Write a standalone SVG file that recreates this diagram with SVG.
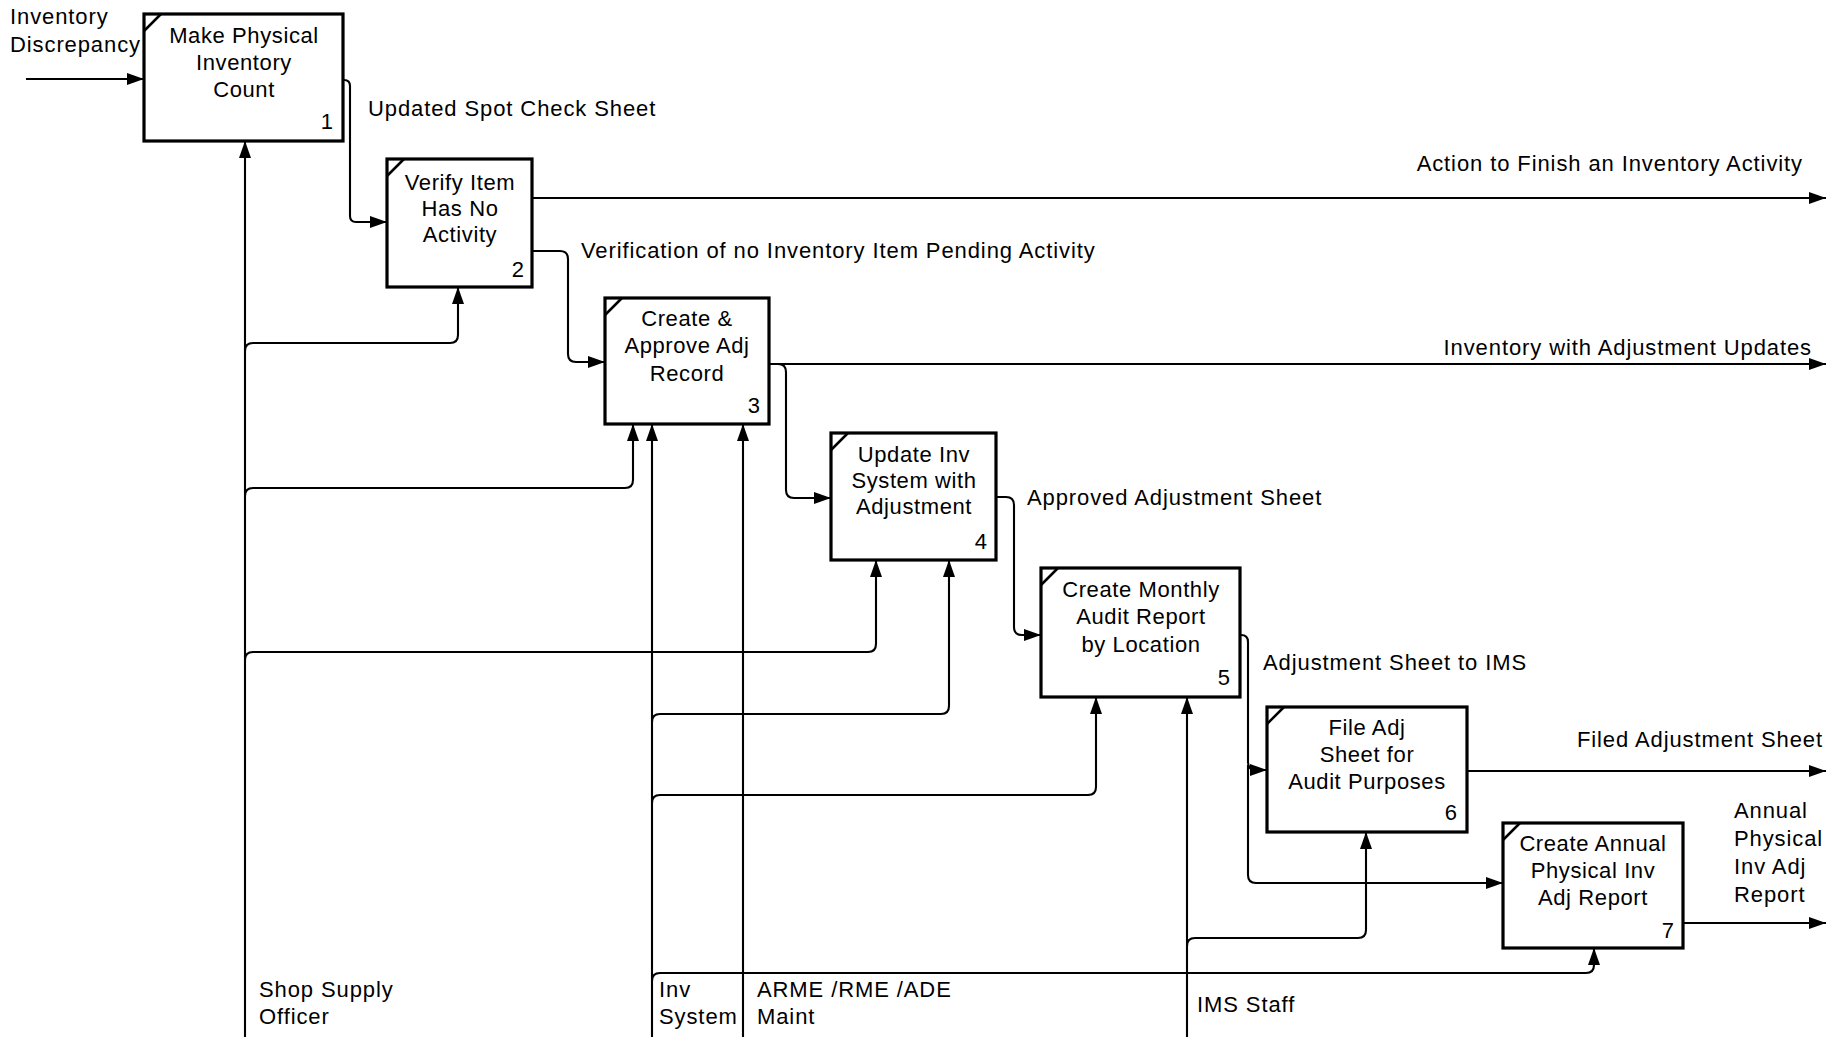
<svg xmlns="http://www.w3.org/2000/svg" width="1839" height="1039" viewBox="0 0 1839 1039">
<style>
text{font-family:"Liberation Sans",Arial,sans-serif;font-size:22px;fill:#000;letter-spacing:0.9px}
.box{fill:#fff;stroke:#000;stroke-width:3.2}
.nt{stroke:#000;stroke-width:2.5}
.node text.t{text-anchor:middle;letter-spacing:0.6px}
.num{text-anchor:end}
.ln{fill:none;stroke:#000;stroke-width:2.1}
.lbl{text-anchor:start}
.end{text-anchor:end}
</style>
<defs>
<marker id="ah" markerUnits="userSpaceOnUse" markerWidth="17" markerHeight="12" refX="17" refY="6" orient="auto">
<path d="M0,0 L17,6 L0,12 z" fill="#000"/>
</marker>
</defs>
<rect width="1839" height="1039" fill="#fff"/>

<g id="connectors">
<path class="ln" marker-end="url(#ah)" d="M26,79 H144"/>
<path class="ln" marker-end="url(#ah)" d="M342,80 H344 Q350,80 350,86 V216 Q350,222 356,222 H387"/>
<path class="ln" marker-end="url(#ah)" d="M532,198 H1826"/>
<path class="ln" marker-end="url(#ah)" d="M532,251 H560 Q568,251 568,259 V354 Q568,362 576,362 H605"/>
<path class="ln" marker-end="url(#ah)" d="M769,364 H1826"/>
<path class="ln" marker-end="url(#ah)" d="M769,364 H778 Q786,364 786,372 V490 Q786,498 794,498 H831"/>
<path class="ln" marker-end="url(#ah)" d="M996,497 H1006 Q1014,497 1014,505 V627 Q1014,635 1022,635 H1041"/>
<path class="ln" marker-end="url(#ah)" d="M1240,635 H1241 Q1248,635 1248,642 V762 Q1248,770 1256,770 H1267"/>
<path class="ln" marker-end="url(#ah)" d="M1248,765 V875 Q1248,883 1256,883 H1503"/>
<path class="ln" marker-end="url(#ah)" d="M1467,771 H1826"/>
<path class="ln" marker-end="url(#ah)" d="M1683,923 H1826"/>

<path class="ln" marker-end="url(#ah)" d="M245,1037 V141"/>
<path class="ln" marker-end="url(#ah)" d="M245,351 Q245,343 253,343 H450 Q458,343 458,335 V287"/>
<path class="ln" marker-end="url(#ah)" d="M245,496 Q245,488 253,488 H625 Q633,488 633,480 V424"/>
<path class="ln" marker-end="url(#ah)" d="M245,660 Q245,652 253,652 H868 Q876,652 876,644 V560"/>

<path class="ln" marker-end="url(#ah)" d="M652,1037 V424"/>
<path class="ln" marker-end="url(#ah)" d="M652,722 Q652,714 660,714 H941 Q949,714 949,706 V560"/>
<path class="ln" marker-end="url(#ah)" d="M652,803 Q652,795 660,795 H1088 Q1096,795 1096,787 V697"/>
<path class="ln" marker-end="url(#ah)" d="M652,981 Q652,973 660,973 H1586 Q1594,973 1594,965 V948"/>

<path class="ln" marker-end="url(#ah)" d="M743,1037 V424"/>

<path class="ln" marker-end="url(#ah)" d="M1187,1037 V697"/>
<path class="ln" marker-end="url(#ah)" d="M1187,946 Q1187,938 1195,938 H1358 Q1366,938 1366,930 V832"/>

<text class="lbl" x="10" y="24">Inventory</text>
<text class="lbl" x="10" y="52">Discrepancy</text>
<text class="lbl" x="368" y="116">Updated Spot Check Sheet</text>
<text class="end" x="1803" y="171">Action to Finish an Inventory Activity</text>
<text class="lbl" x="581" y="258">Verification of no Inventory Item Pending Activity</text>
<text class="end" x="1812" y="355">Inventory with Adjustment Updates</text>
<text class="lbl" x="1027" y="505">Approved Adjustment Sheet</text>
<text class="lbl" x="1263" y="670">Adjustment Sheet to IMS</text>
<text class="end" x="1823" y="747">Filed Adjustment Sheet</text>
<text class="lbl" x="1734" y="818">Annual</text>
<text class="lbl" x="1734" y="846">Physical</text>
<text class="lbl" x="1734" y="874">Inv Adj</text>
<text class="lbl" x="1734" y="902">Report</text>
<text class="lbl" x="259" y="997">Shop Supply</text>
<text class="lbl" x="259" y="1024">Officer</text>
<text class="lbl" x="659" y="997">Inv</text>
<text class="lbl" x="659" y="1024">System</text>
<text class="lbl" x="757" y="997">ARME /RME /ADE</text>
<text class="lbl" x="757" y="1024">Maint</text>
<text class="lbl" x="1197" y="1012">IMS Staff</text>
</g>

<g id="node1" class="node">
<rect class="box" x="144" y="14" width="199" height="127"/>
<line class="nt" x1="144" y1="31" x2="161" y2="14"/>
<text class="t" x="244" y="43">Make Physical</text>
<text class="t" x="244" y="70">Inventory</text>
<text class="t" x="244" y="97">Count</text>
<text class="num" x="334" y="129">1</text>
</g>

<g id="node2" class="node">
<rect class="box" x="387" y="159" width="145" height="128"/>
<line class="nt" x1="387" y1="176" x2="404" y2="159"/>
<text class="t" x="460" y="190">Verify Item</text>
<text class="t" x="460" y="216">Has No</text>
<text class="t" x="460" y="242">Activity</text>
<text class="num" x="525" y="277">2</text>
</g>

<g id="node3" class="node">
<rect class="box" x="605" y="298" width="164" height="126"/>
<line class="nt" x1="605" y1="315" x2="622" y2="298"/>
<text class="t" x="687" y="326">Create &amp;</text>
<text class="t" x="687" y="353">Approve Adj</text>
<text class="t" x="687" y="381">Record</text>
<text class="num" x="761" y="413">3</text>
</g>

<g id="node4" class="node">
<rect class="box" x="831" y="433" width="165" height="127"/>
<line class="nt" x1="831" y1="450" x2="848" y2="433"/>
<text class="t" x="914" y="462">Update Inv</text>
<text class="t" x="914" y="488">System with</text>
<text class="t" x="914" y="514">Adjustment</text>
<text class="num" x="988" y="549">4</text>
</g>

<g id="node5" class="node">
<rect class="box" x="1041" y="568" width="199" height="129"/>
<line class="nt" x1="1041" y1="585" x2="1058" y2="568"/>
<text class="t" x="1141" y="597">Create Monthly</text>
<text class="t" x="1141" y="624">Audit Report</text>
<text class="t" x="1141" y="652">by Location</text>
<text class="num" x="1231" y="685">5</text>
</g>

<g id="node6" class="node">
<rect class="box" x="1267" y="707" width="200" height="125"/>
<line class="nt" x1="1267" y1="724" x2="1284" y2="707"/>
<text class="t" x="1367" y="735">File Adj</text>
<text class="t" x="1367" y="762">Sheet for</text>
<text class="t" x="1367" y="789">Audit Purposes</text>
<text class="num" x="1458" y="820">6</text>
</g>

<g id="node7" class="node">
<rect class="box" x="1503" y="823" width="180" height="125"/>
<line class="nt" x1="1503" y1="840" x2="1520" y2="823"/>
<text class="t" x="1593" y="851">Create Annual</text>
<text class="t" x="1593" y="878">Physical Inv</text>
<text class="t" x="1593" y="905">Adj Report</text>
<text class="num" x="1675" y="938">7</text>
</g>
</svg>
